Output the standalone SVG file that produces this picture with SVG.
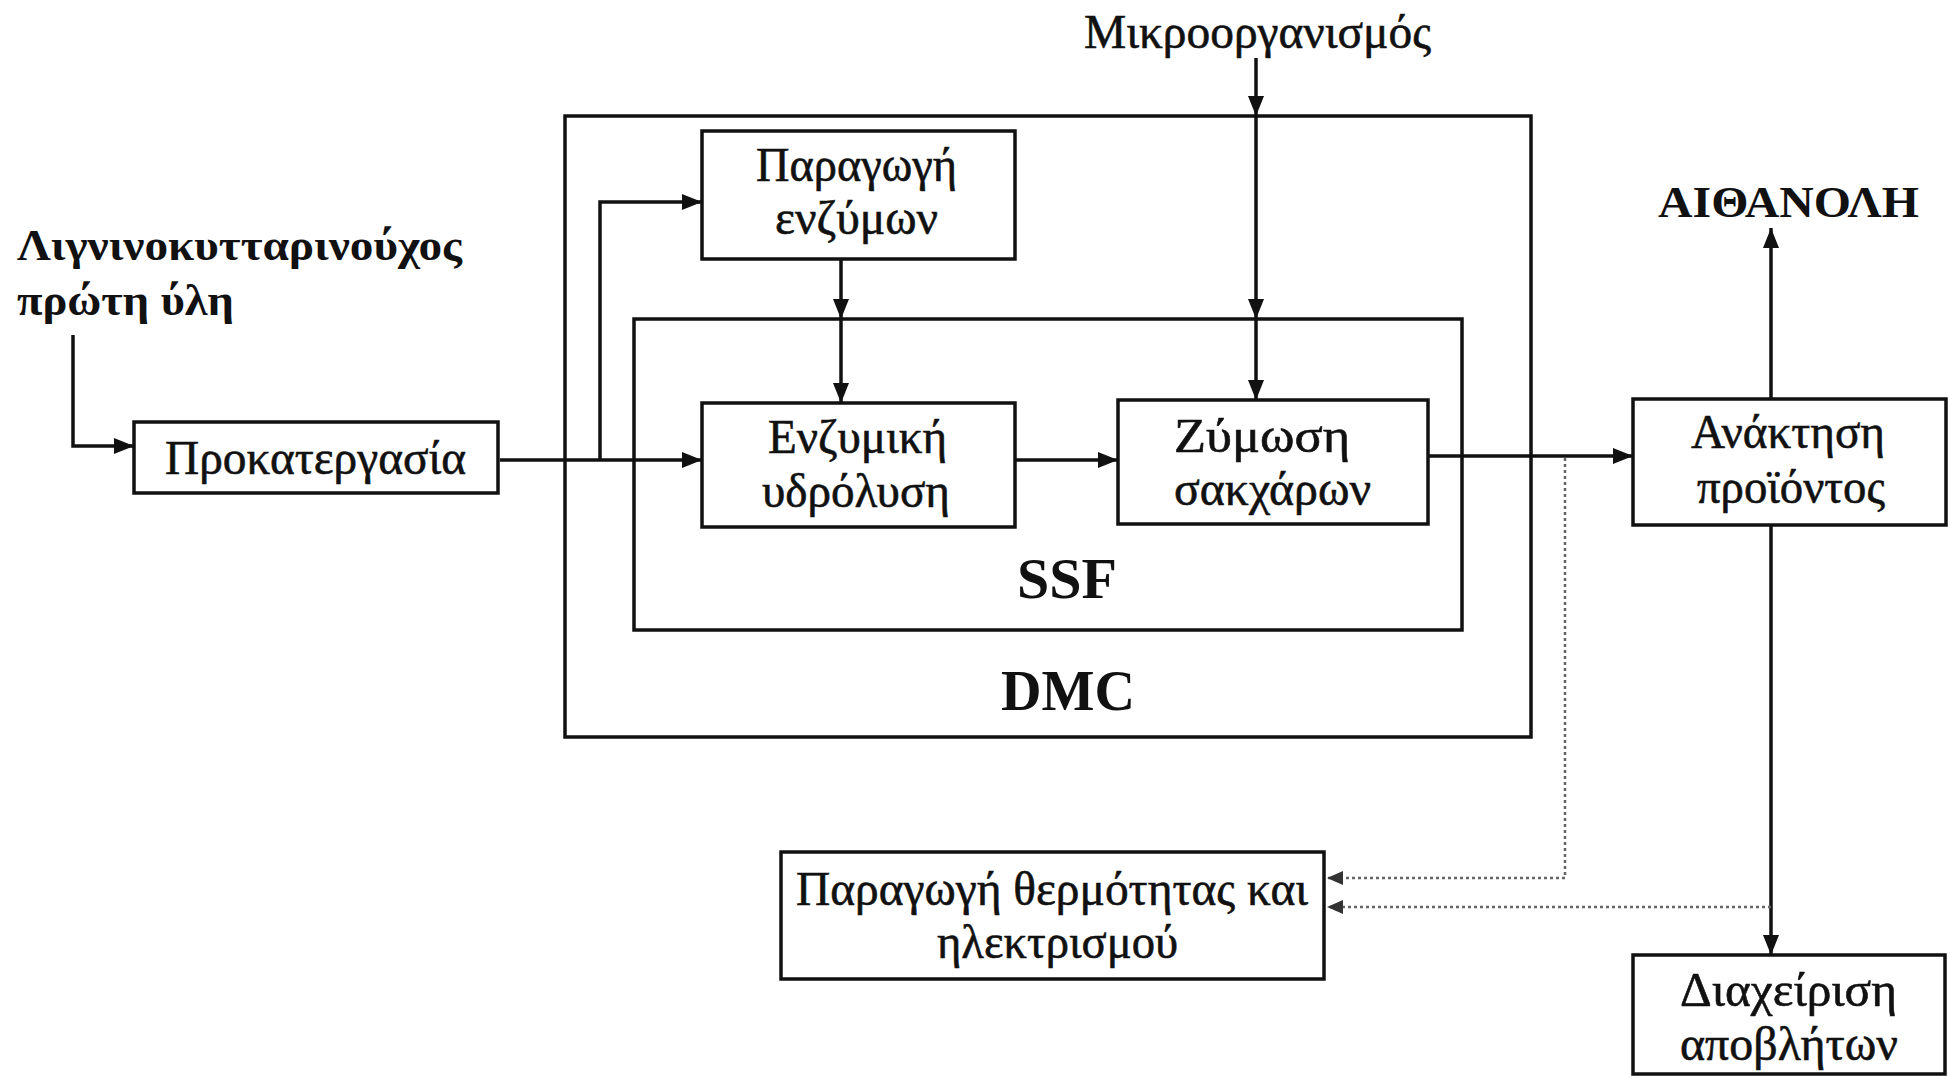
<svg xmlns="http://www.w3.org/2000/svg" width="1950" height="1076" viewBox="0 0 1950 1076">
<defs>
<style>
.box{fill:none;stroke:#111;stroke-width:3.5}
.ln{fill:none;stroke:#111;stroke-width:3.5}
.dot{fill:none;stroke:#666;stroke-width:2.5;stroke-dasharray:3 3}
.t{font-family:"Liberation Serif","DejaVu Serif",serif;font-size:48px;fill:#111;stroke:#111;stroke-width:0.6}
.b{font-family:"Liberation Serif","DejaVu Serif",serif;font-weight:bold;fill:#111}
</style>
<marker id="ah" viewBox="0 0 20 16" refX="20" refY="8" markerWidth="20" markerHeight="16" markerUnits="userSpaceOnUse" orient="auto">
<path d="M0,0 L20,8 L0,16 Z" fill="#111"/>
</marker>
<marker id="ahs" viewBox="0 0 16 14" refX="16" refY="7" markerWidth="16" markerHeight="14" markerUnits="userSpaceOnUse" orient="auto">
<path d="M0,0 L16,7 L0,14 Z" fill="#333"/>
</marker>
</defs>
<rect width="1950" height="1076" fill="#fff"/>

<g id="dmc">
<rect class="box" x="565" y="116" width="966" height="621"/>
<text class="b" x="1001" y="710" font-size="56" textLength="134" lengthAdjust="spacingAndGlyphs">DMC</text>
</g>
<g id="ssf">
<rect class="box" x="634" y="319" width="828" height="311"/>
<text class="b" x="1017" y="598" font-size="56" textLength="100" lengthAdjust="spacingAndGlyphs">SSF</text>
</g>

<g id="feedstock">
<text class="b" x="17" y="260" font-size="45" textLength="445" lengthAdjust="spacingAndGlyphs">Λιγνινοκυτταρινούχος</text>
<text class="b" x="17" y="315" font-size="45" textLength="217" lengthAdjust="spacingAndGlyphs">πρώτη ύλη</text>
</g>
<g id="pretreatment">
<rect class="box" x="134" y="422" width="364" height="71"/>
<text class="t" x="165" y="474" textLength="301" lengthAdjust="spacingAndGlyphs">Προκατεργασία</text>
</g>
<g id="enzyme-production">
<rect class="box" x="702" y="131" width="313" height="128"/>
<text class="t" x="756" y="181" textLength="201" lengthAdjust="spacingAndGlyphs">Παραγωγή</text>
<text class="t" x="775" y="234" textLength="163" lengthAdjust="spacingAndGlyphs">ενζύμων</text>
</g>
<g id="hydrolysis">
<rect class="box" x="702" y="403" width="313" height="124"/>
<text class="t" x="768" y="453" textLength="179" lengthAdjust="spacingAndGlyphs">Ενζυμική</text>
<text class="t" x="762" y="507" textLength="188" lengthAdjust="spacingAndGlyphs">υδρόλυση</text>
</g>
<g id="fermentation">
<rect class="box" x="1118" y="400" width="310" height="124"/>
<text class="t" x="1174" y="452" textLength="176" lengthAdjust="spacingAndGlyphs">Ζύμωση</text>
<text class="t" x="1174" y="505" textLength="197" lengthAdjust="spacingAndGlyphs">σακχάρων</text>
</g>
<g id="microorganism">
<text class="t" x="1084" y="48" textLength="347" lengthAdjust="spacingAndGlyphs">Μικροοργανισμός</text>
</g>
<g id="recovery">
<rect class="box" x="1633" y="399" width="313" height="126"/>
<text class="t" x="1691" y="448" textLength="194" lengthAdjust="spacingAndGlyphs">Ανάκτηση</text>
<text class="t" x="1697" y="503" textLength="188" lengthAdjust="spacingAndGlyphs">προϊόντος</text>
</g>
<g id="ethanol">
<text class="b" x="1658" y="217" font-size="44" textLength="261" lengthAdjust="spacingAndGlyphs">ΑΙΘΑΝΟΛΗ</text>
</g>
<g id="heat-power">
<rect class="box" x="781" y="852" width="543" height="127"/>
<text class="t" x="796" y="905" textLength="512" lengthAdjust="spacingAndGlyphs">Παραγωγή θερμότητας και</text>
<text class="t" x="937" y="958" textLength="241" lengthAdjust="spacingAndGlyphs">ηλεκτρισμού</text>
</g>
<g id="waste">
<rect class="box" x="1633" y="955" width="312" height="119"/>
<text class="t" x="1680" y="1006" textLength="217" lengthAdjust="spacingAndGlyphs">Διαχείριση</text>
<text class="t" x="1680" y="1060" textLength="218" lengthAdjust="spacingAndGlyphs">αποβλήτων</text>
</g>

<g id="connectors">
<path class="ln" d="M73,335 V446 H134" marker-end="url(#ah)"/>
<path class="ln" d="M500,460 H702" marker-end="url(#ah)"/>
<path class="ln" d="M600,460 V202 H702" marker-end="url(#ah)"/>
<path class="ln" d="M841,259 V319" marker-end="url(#ah)"/>
<path class="ln" d="M841,319 V403" marker-end="url(#ah)"/>
<path class="ln" d="M1256,58 V116" marker-end="url(#ah)"/>
<path class="ln" d="M1256,116 V319" marker-end="url(#ah)"/>
<path class="ln" d="M1256,319 V400" marker-end="url(#ah)"/>
<path class="ln" d="M1015,460 H1118" marker-end="url(#ah)"/>
<path class="ln" d="M1428,456 H1633" marker-end="url(#ah)"/>
<path class="ln" d="M1771,399 V228" marker-end="url(#ah)"/>
<path class="ln" d="M1771,525 V955" marker-end="url(#ah)"/>
<path class="dot" d="M1565,458 V878 H1327" marker-end="url(#ahs)"/>
<path class="dot" d="M1771,907 H1327" marker-end="url(#ahs)"/>
</g>
</svg>
